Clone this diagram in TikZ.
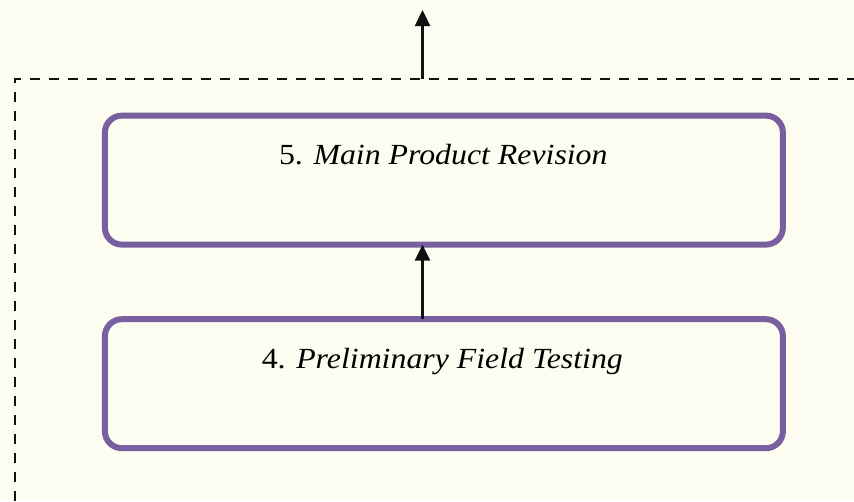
\documentclass[tikz,border=0pt]{standalone}
\usepackage{fontspec}
\setmainfont{Liberation Serif}
\usetikzlibrary{arrows.meta}
\definecolor{pagebg}{HTML}{FCFCF0}
\definecolor{stagepurple}{HTML}{7A5FA0}
\definecolor{inkdark}{HTML}{111111}
\tikzset{
  stagebox/.style={draw=stagepurple, line width=6pt, rounded corners=17pt,
    minimum width=678pt, minimum height=129pt, outer sep=0pt, inner sep=0pt},
  stagetext/.style={anchor=base, inner sep=0pt,
    font=\fontsize{29.2}{34}\selectfont},
  flowarrow/.style={draw=inkdark, line width=2.3pt,
    -{Triangle[length=16pt,width=15pt]}},
  phaseframe/.style={draw=inkdark, line width=2.6pt, dash pattern=on 10pt off 9pt}
}
\newcommand{\stagelabel}[2]{\scalebox{1.09}[1]{#1. \textit{#2}}}
\begin{document}
\begin{tikzpicture}[x=1pt, y=-1pt]
  % page area and background
  \fill[pagebg] (0,0) rectangle (854,501);
  \useasboundingbox (0,0) rectangle (854,501);
  \clip (0,0) rectangle (854,501);

  % dashed frame of the development phase (continues past the page)
  \draw[phaseframe] (15,520) -- (15,79) -- (880,79);

  % stage boxes
  \node[stagebox] (rev) at (443.9,180.1) {};
  \node[stagebox] (test) at (443.9,383.7) {};

  % stage titles
  \node[stagetext] (revtext) at (443.3,164.3) {\stagelabel{5}{Main Product Revision}};
  \node[stagetext] (testtext) at (442.3,368.3) {\stagelabel{4}{Preliminary Field Testing}};

  % flow arrows
  \draw[flowarrow] ([xshift=-21.4pt]test.north) -- ([xshift=-21.4pt]rev.south);
  \coordinate (framefoot) at (422.5,79);
  \coordinate (nextstage) at (422.5,10);
  \draw[flowarrow] (framefoot) -- (nextstage);
\end{tikzpicture}
\end{document}
